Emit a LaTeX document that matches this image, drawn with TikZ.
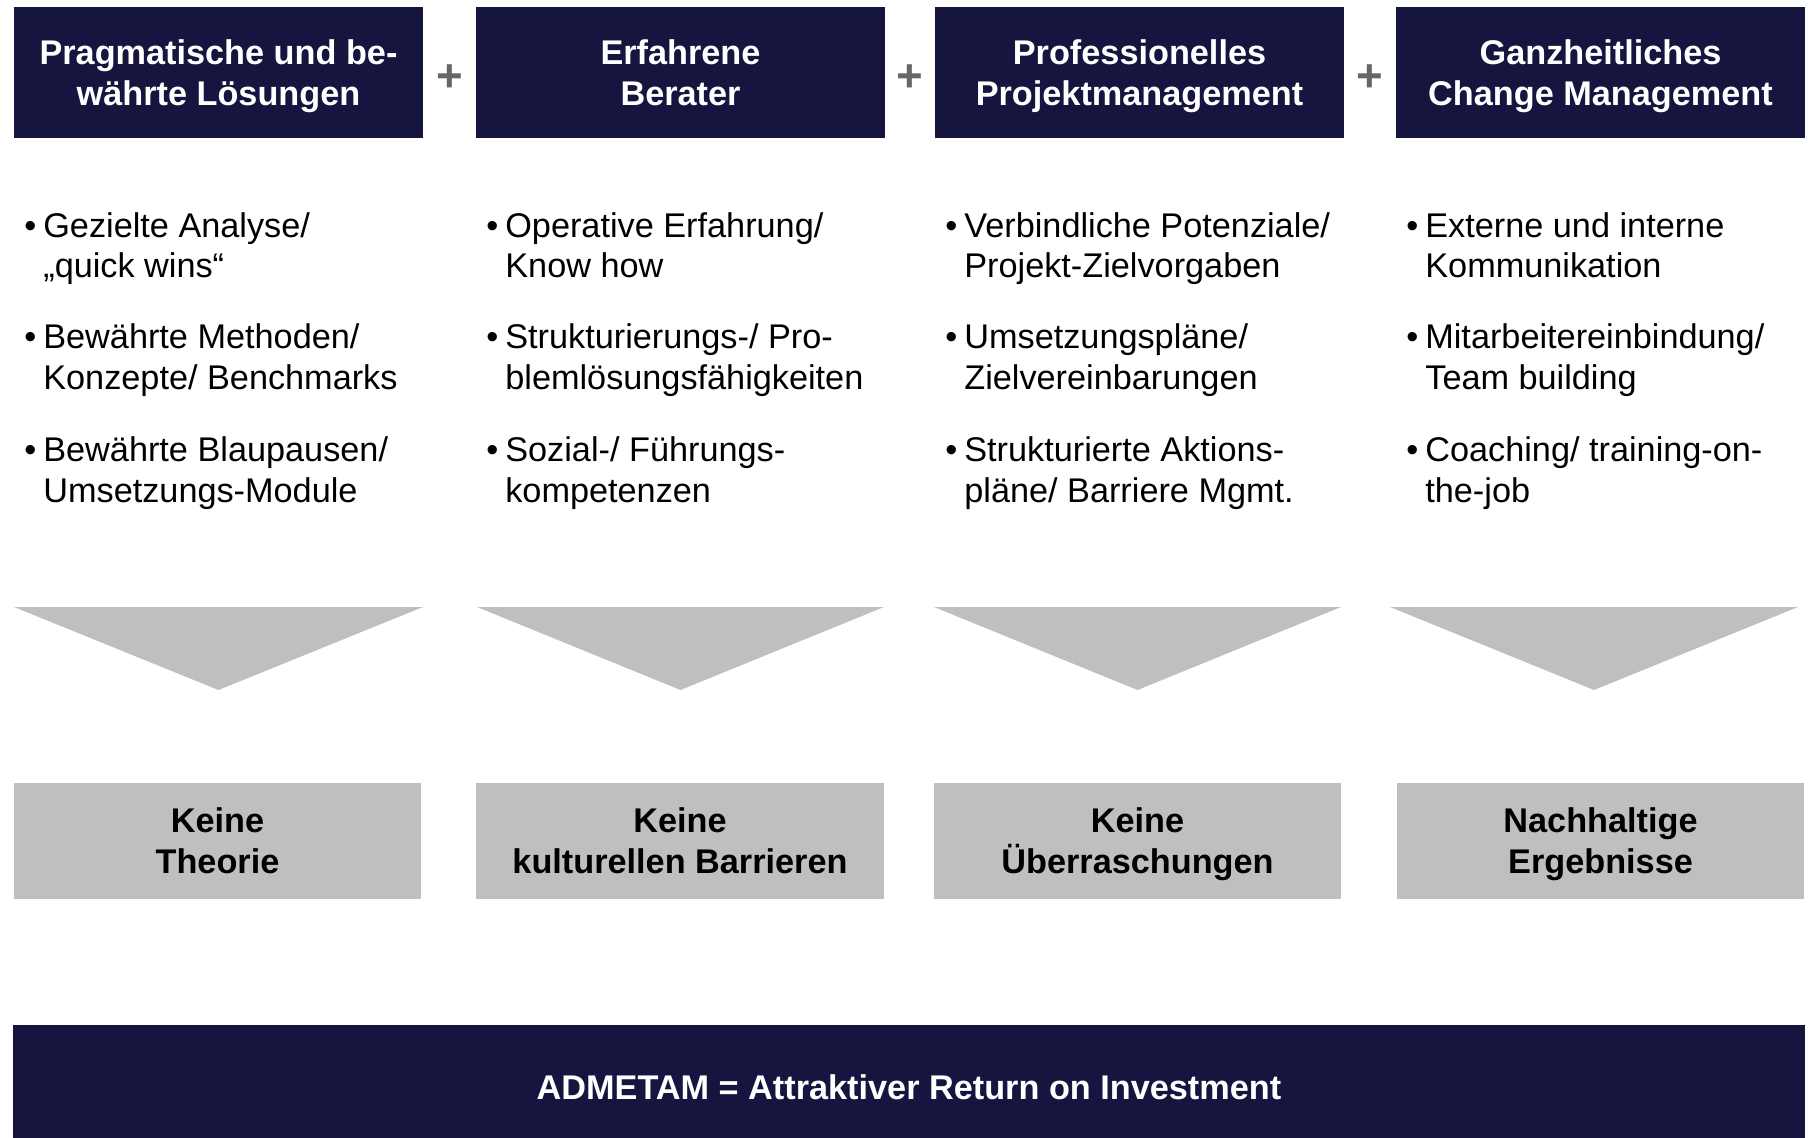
\documentclass[tikz,border=0pt]{standalone}
\usepackage{fontspec}
\setmainfont{Liberation Sans}
\usetikzlibrary{calc}

\definecolor{admnavy}{RGB}{22,21,64}
\definecolor{admgray}{RGB}{191,191,191}
\definecolor{plusgray}{RGB}{102,102,102}

\tikzset{
    headbox/.style={fill=admnavy, text=white, align=center, inner sep=0pt,
        minimum width=8.18cm, minimum height=2.62cm, text depth=0pt,
        font=\fontsize{19.5}{23.3}\selectfont\bfseries},
    resultbox/.style={fill=admgray, align=center, inner sep=0pt,
        minimum width=8.16cm, minimum height=2.34cm, text depth=0pt,
        font=\fontsize{19.5}{23.3}\selectfont\bfseries},
    bullets/.style={anchor=base west, align=left, inner sep=0pt,
        font=\fontsize{19.5}{23}\selectfont},
    plussign/.style={text=plusgray, inner sep=0pt, yshift=-0.12cm,
        font=\fontsize{26}{26}\selectfont\bfseries},
    chevron/.style={fill=admgray},
    roibar/.style={fill=admnavy, text=white, inner sep=0pt,
        minimum width=35.84cm, minimum height=2.26cm,
        text height=20pt, text depth=0pt,
        font=\fontsize{19.5}{23.3}\selectfont\bfseries},
}

\newcommand{\bul}[2]{\makebox[0.38cm][l]{\textbullet}#1\\\hspace*{0.38cm}#2}

\begin{document}
\begin{tikzpicture}[x=0.02cm, y=-0.02cm]
        \useasboundingbox (0,0) rectangle (1808,1138);

        % top row
        \node[headbox] (head1) at (218.5,72.5) {Pragmatische und be-\\währte Lösungen};
        \node[headbox] (head2) at (680.5,72.5) {Erfahrene\\Berater};
        \node[headbox] (head3) at (1139.5,72.5) {Professionelles\\Projektmanagement};
        \node[headbox] (head4) at (1600.5,72.5) {Ganzheitliches\\Change Management};

        \node[plussign] (plus1) at ($(head1.east)!0.5!(head2.west)$) {+};
        \node[plussign] (plus2) at ($(head2.east)!0.5!(head3.west)$) {+};
        \node[plussign] (plus3) at ($(head3.east)!0.5!(head4.west)$) {+};

        % bullet points (base = last line)
        \node[bullets] (item11) at (24,278) {\bul{Gezielte Analyse/}{„quick wins“}};
        \node[bullets] (item12) at (24,389) {\bul{Bewährte Methoden/}{Konzepte/ Benchmarks}};
        \node[bullets] (item13) at (24,502) {\bul{Bewährte Blaupausen/}{Umsetzungs-Module}};

        \node[bullets] (item21) at (486,278) {\bul{Operative Erfahrung/}{Know how}};
        \node[bullets] (item22) at (486,389) {\bul{Strukturierungs-/ Pro-}{blemlösungsfähigkeiten}};
        \node[bullets] (item23) at (486,502) {\bul{Sozial-/ Führungs-}{kompetenzen}};

        \node[bullets] (item31) at (945,278) {\bul{Verbindliche Potenziale/}{Projekt-Zielvorgaben}};
        \node[bullets] (item32) at (945,389) {\bul{Umsetzungspläne/}{Zielvereinbarungen}};
        \node[bullets] (item33) at (945,502) {\bul{Strukturierte Aktions-}{pläne/ Barriere Mgmt.}};

        \node[bullets] (item41) at (1406,278) {\bul{Externe und interne}{Kommunikation}};
        \node[bullets] (item42) at (1406,389) {\bul{Mitarbeitereinbindung/}{Team building}};
        \node[bullets] (item43) at (1406,502) {\bul{Coaching/ training-on-}{the-job}};

        % chevrons
        \fill[chevron] (14,607) -- (423,607) -- (218.5,690) -- cycle;
        \fill[chevron] (477,607) -- (884,607) -- (680.5,690) -- cycle;
        \fill[chevron] (934,607) -- (1341,607) -- (1137.5,690) -- cycle;
        \fill[chevron] (1390,607) -- (1798,607) -- (1594,690) -- cycle;

        % results
        \node[resultbox] (result1) at (217.5,841) {Keine\\Theorie};
        \node[resultbox] (result2) at (680,841) {Keine\\kulturellen Barrieren};
        \node[resultbox] (result3) at (1137.5,841) {Keine\\Überraschungen};
        \node[resultbox] (result4) at (1600.5,841) {Nachhaltige\\Ergebnisse};

        \node[roibar] (roi) at (909,1081.5) {ADMETAM = Attraktiver Return on Investment};

    \end{tikzpicture}
\end{document}
